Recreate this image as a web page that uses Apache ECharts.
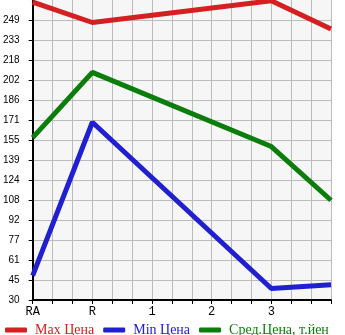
<!DOCTYPE html>
<html>
<head>
<meta charset="utf-8">
<script src="https://cdn.jsdelivr.net/npm/echarts@6/dist/echarts.min.js"></script>
<style>
  html, body { margin: 0; padding: 0; background: #fff; }
  #main { width: 345px; height: 335px; }
</style>
</head>
<body>
<div id="main"></div>
<script>
// x categories (last one has no label)
var categories = ['RA', 'R', '1', '2', '3', ''];
// prices, null = no point (line runs straight through)
var maxPrice = [263, 247, null, null, 264, 242];
var minPrice = [49, 169, null, null, 39, 42];
var avgPrice = [157, 208, null, null, 150, 108];
// y tick labels as printed
var yLabels = ['30', '45', '61', '77', '92', '108', '124', '139', '155', '171', '186', '202', '218', '233', '249'];
var yMin = 30;
var yStep = 15.64;
var yMax = yMin + yLabels.length * yStep;

var yTickValues = yLabels.map(function (l, i) { return yMin + i * yStep; });

function pairs(arr) {
	var out = [];
	arr.forEach(function (v, i) {
		if (v !== null) out.push([i, v]);
	});
	return out;
}

var myChart = echarts.init(document.getElementById('main'));
myChart.setOption({
	animation: false,
	grid: {
		left: 31, right: 14, top: 0, bottom: 35,
		show: true, backgroundColor: '#f6f6f6', borderWidth: 0
	},
	xAxis: {
		type: 'value',
		min: 0, max: categories.length - 1, interval: 1,
		axisLine: { show: true, lineStyle: { color: '#000', width: 2 } },
		axisTick: { show: true, length: 4, lineStyle: { color: '#000' } },
		minorTick: { show: true, splitNumber: 3, length: 4, lineStyle: { color: '#000' } },
		splitLine: { show: true, lineStyle: { color: '#bbb', width: 1 } },
		minorSplitLine: { show: true, lineStyle: { color: '#bbb', width: 1 } },
		axisLabel: {
			margin: 6,
			color: '#000',
			fontFamily: 'Liberation Mono',
			fontSize: 12,
			formatter: function (v) { return categories[Math.round(v)] || ''; }
		}
	},
	yAxis: {
		type: 'value',
		min: yMin, max: yMax,
		axisLine: { show: true, lineStyle: { color: '#000', width: 2 } },
		axisTick: { show: true, length: 4, customValues: yTickValues, lineStyle: { color: '#000' } },
		splitLine: { show: true, lineStyle: { color: '#bbb', width: 1 } },
		axisLabel: {
			margin: 13,
			color: '#000',
			fontFamily: 'Liberation Sans',
			fontSize: 10,
			customValues: yTickValues,
			formatter: function (v) { return yLabels[Math.round((v - yMin) / yStep)] || ''; }
		}
	},
	legend: {
		left: 0, top: 318,
		icon: 'roundRect',
		itemWidth: 22, itemHeight: 5, itemGap: 9,
		textStyle: { fontFamily: 'Liberation Serif', fontSize: 14, padding: [0, 0, 0, 3] },
		data: [
			{ name: 'Max Цена', textStyle: { color: '#d42020' } },
			{ name: 'Min Цена', textStyle: { color: '#2020d0' } },
			{ name: 'Сред.Цена, т.йен', textStyle: { color: '#0a7d0a' } }
		]
	},
	series: [{
		name: 'Max Цена',
		type: 'line',
		data: pairs(maxPrice),
		showSymbol: false,
		color: '#d42020',
		lineStyle: { width: 5 }
	}, {
		name: 'Min Цена',
		type: 'line',
		data: pairs(minPrice),
		showSymbol: false,
		color: '#2020d0',
		lineStyle: { width: 5 }
	}, {
		name: 'Сред.Цена, т.йен',
		type: 'line',
		data: pairs(avgPrice),
		showSymbol: false,
		color: '#0a7d0a',
		lineStyle: { width: 5 }
	}]
});
</script>
</body>
</html>
